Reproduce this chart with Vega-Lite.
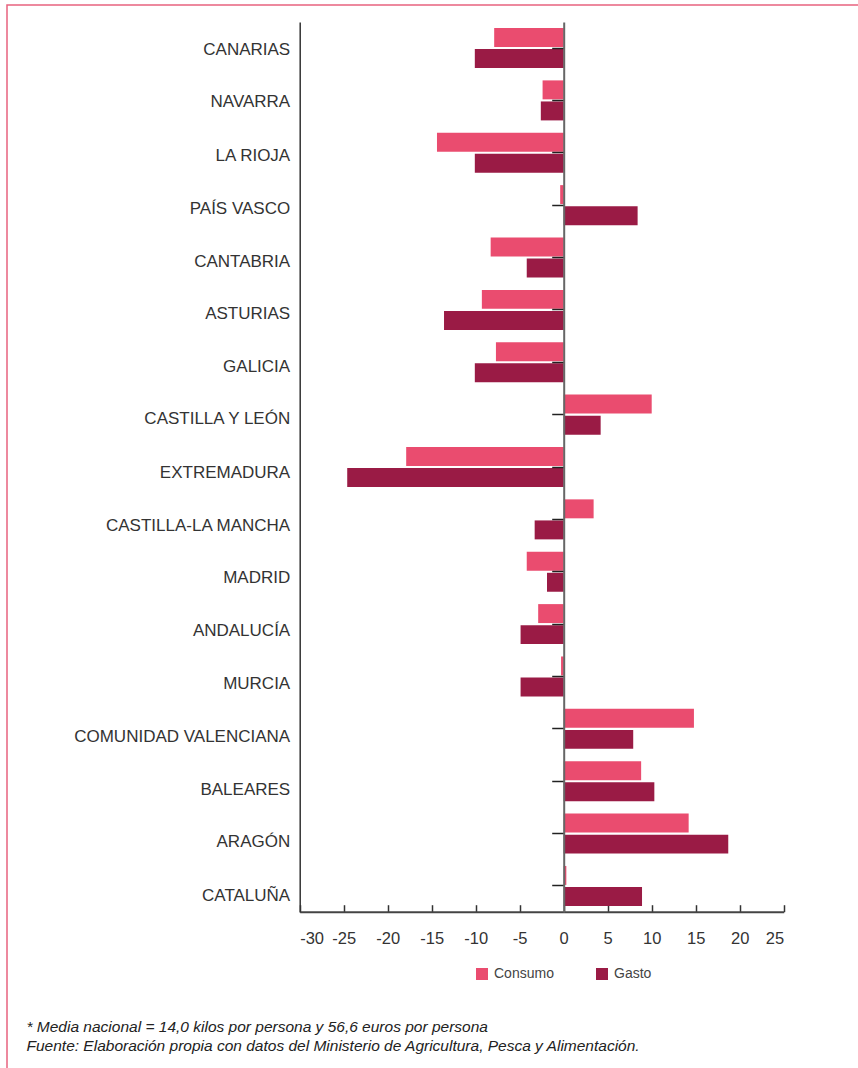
{
  "$schema": "https://vega.github.io/schema/vega-lite/v6.json",
  "width": 852,
  "height": 1070,
  "autosize": {"type": "none"},
  "padding": {"left": 7, "top": 5, "right": 0, "bottom": 0},
  "background": "white",
  "config": {
    "view": {"stroke": "#E8637F", "strokeWidth": 1.5},
    "axis": {"grid": false},
    "font": "Liberation Sans"
  },
  "data": {
    "values": [
      {"region": "CANARIAS", "serie": "Consumo", "valor": -7.9},
      {"region": "CANARIAS", "serie": "Gasto", "valor": -10.1},
      {"region": "NAVARRA", "serie": "Consumo", "valor": -2.4},
      {"region": "NAVARRA", "serie": "Gasto", "valor": -2.6},
      {"region": "LA RIOJA", "serie": "Consumo", "valor": -14.4},
      {"region": "LA RIOJA", "serie": "Gasto", "valor": -10.1},
      {"region": "PAÍS VASCO", "serie": "Consumo", "valor": -0.4},
      {"region": "PAÍS VASCO", "serie": "Gasto", "valor": 8.4},
      {"region": "CANTABRIA", "serie": "Consumo", "valor": -8.3},
      {"region": "CANTABRIA", "serie": "Gasto", "valor": -4.2},
      {"region": "ASTURIAS", "serie": "Consumo", "valor": -9.3},
      {"region": "ASTURIAS", "serie": "Gasto", "valor": -13.6},
      {"region": "GALICIA", "serie": "Consumo", "valor": -7.7},
      {"region": "GALICIA", "serie": "Gasto", "valor": -10.1},
      {"region": "CASTILLA Y LEÓN", "serie": "Consumo", "valor": 10.0},
      {"region": "CASTILLA Y LEÓN", "serie": "Gasto", "valor": 4.2},
      {"region": "EXTREMADURA", "serie": "Consumo", "valor": -17.9},
      {"region": "EXTREMADURA", "serie": "Gasto", "valor": -24.6},
      {"region": "CASTILLA-LA MANCHA", "serie": "Consumo", "valor": 3.4},
      {"region": "CASTILLA-LA MANCHA", "serie": "Gasto", "valor": -3.3},
      {"region": "MADRID", "serie": "Consumo", "valor": -4.2},
      {"region": "MADRID", "serie": "Gasto", "valor": -1.9},
      {"region": "ANDALUCÍA", "serie": "Consumo", "valor": -2.9},
      {"region": "ANDALUCÍA", "serie": "Gasto", "valor": -4.9},
      {"region": "MURCIA", "serie": "Consumo", "valor": -0.3},
      {"region": "MURCIA", "serie": "Gasto", "valor": -4.9},
      {"region": "COMUNIDAD VALENCIANA", "serie": "Consumo", "valor": 14.8},
      {"region": "COMUNIDAD VALENCIANA", "serie": "Gasto", "valor": 7.9},
      {"region": "BALEARES", "serie": "Consumo", "valor": 8.8},
      {"region": "BALEARES", "serie": "Gasto", "valor": 10.3},
      {"region": "ARAGÓN", "serie": "Consumo", "valor": 14.2},
      {"region": "ARAGÓN", "serie": "Gasto", "valor": 18.7},
      {"region": "CATALUÑA", "serie": "Consumo", "valor": 0.3},
      {"region": "CATALUÑA", "serie": "Gasto", "valor": 8.9}
    ]
  },
  "encoding": {
    "x": {
      "field": "valor",
      "type": "quantitative",
      "scale": {"domain": [-30, 25], "range": [292.7, 776.7], "nice": false, "zero": false},
      "axis": {
        "orient": "bottom",
        "offset": -163.3,
        "values": [-30, -25, -20, -15, -10, -5, 0, 5, 10, 15, 20, 25],
        "labelExpr": "datum.value + ''",
        "tickSize": -7,
        "tickColor": "#333",
        "tickWidth": 1.5,
        "domainColor": "#444",
        "domainWidth": 2,
        "labelFont": "Liberation Sans",
        "labelFontSize": 16.5,
        "labelColor": "#333",
        "labelPadding": 26,
        "title": ["* Media nacional = 14,0 kilos por persona y 56,6 euros por persona", "Fuente: Elaboración propia con datos del Ministerio de Agricultura, Pesca y Alimentación."],
        "titleX": 19,
        "titleY": 120,
        "titleAlign": "left",
        "titleBaseline": "alphabetic",
        "titleFont": "Liberation Sans",
        "titleFontStyle": "italic",
        "titleFontWeight": "normal",
        "titleFontSize": 15.5,
        "titleColor": "#222",
        "titleLineHeight": 19
      }
    },
    "y": {
      "field": "region",
      "type": "nominal",
      "sort": null,
      "scale": {"range": [17, 907], "paddingInner": 0.236, "paddingOuter": 0.115}
    }
  },
  "layer": [
    {
      "mark": {"type": "bar"},
      "encoding": {
        "y": {
          "field": "region",
          "type": "nominal",
          "sort": null,
          "axis": {
            "orient": "left",
            "offset": -292.7,
            "ticks": false,
            "domainColor": "#333",
            "domainWidth": 1.5,
            "labelFont": "Liberation Sans",
            "labelFontSize": 17,
            "labelColor": "#333",
            "labelPadding": 10,
            "labelLimit": 400,
            "title": null,
            "labelOffset": {
              "condition": [
                {"test": "indexof(['CANARIAS','NAVARRA'], datum.value) >= 0", "value": 2},
                {"test": "datum.value == 'LA RIOJA'", "value": 3},
                {"test": "indexof(['PAÍS VASCO','CANTABRIA','ASTURIAS','GALICIA','CASTILLA Y LEÓN'], datum.value) >= 0", "value": 4.3},
                {"test": "indexof(['EXTREMADURA','CASTILLA-LA MANCHA','MADRID'], datum.value) >= 0", "value": 6.3},
                {"test": "indexof(['ANDALUCÍA','MURCIA'], datum.value) >= 0", "value": 7.3},
                {"test": "indexof(['COMUNIDAD VALENCIANA','ARAGÓN'], datum.value) >= 0", "value": 8.2},
                {"test": "datum.value == 'BALEARES'", "value": 9}
              ],
              "value": 10
            }
          }
        },
        "yOffset": {"field": "serie", "type": "nominal", "sort": ["Consumo", "Gasto"], "scale": {"paddingInner": 0.1}},
        "color": {
          "field": "serie",
          "type": "nominal",
          "scale": {"domain": ["Consumo", "Gasto"], "range": ["#EA4C6F", "#9A1B45"]},
          "legend": {
            "orient": "none",
            "legendX": 468,
            "legendY": 962,
            "direction": "horizontal",
            "title": null,
            "symbolType": "square",
            "symbolSize": 144,
            "symbolStrokeWidth": 0,
            "labelFont": "Liberation Sans",
            "labelFontSize": 14,
            "labelColor": "#444",
            "labelOffset": 5,
            "columnPadding": 41
          }
        }
      }
    },
    {
      "mark": {"type": "point", "opacity": 0},
      "encoding": {
        "y": {
          "field": "region",
          "type": "nominal",
          "sort": null,
          "axis": {
            "orient": "left",
            "offset": -556.7,
            "labels": false,
            "ticks": true,
            "tickSize": 12,
            "tickColor": "#222",
            "tickWidth": 1.5,
            "domainColor": "#666",
            "domainWidth": 2,
            "title": null,
            "zindex": 1
          }
        }
      }
    }
  ],
  "resolve": {"axis": {"y": "independent"}}
}
